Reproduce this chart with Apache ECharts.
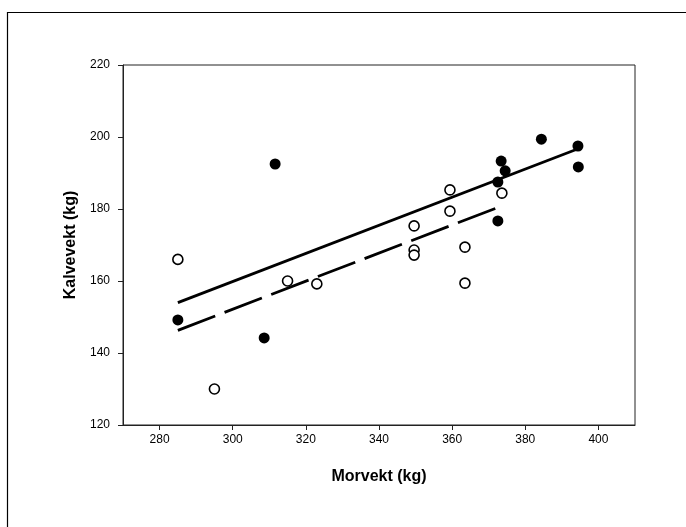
<!DOCTYPE html>
<html>
<head>
<meta charset="utf-8">
<script src="https://cdn.jsdelivr.net/npm/echarts@6/dist/echarts.min.js"></script>
<style>html,body{margin:0;padding:0;background:#fff;}#c{width:686px;height:527px;}</style>
</head>
<body>
<div id="c"></div>
<script>
// Open circles (x: Morvekt, y: Kalvevekt)
const openPoints = [
  [285, 166], [295, 130], [315, 160], [323, 159.2], [349.6, 175.3],
  [349.6, 168.6], [349.6, 167.2], [359.4, 185.3], [359.4, 179.4],
  [363.5, 169.4], [363.5, 159.4], [373.6, 184.4]
];
// Filled circles
const filledPoints = [
  [285, 149.2], [311.6, 192.5], [308.6, 144.2], [372.5, 176.7],
  [372.5, 187.5], [373.4, 193.3], [374.5, 190.6], [384.4, 199.4],
  [394.4, 197.5], [394.5, 191.7]
];
// Regression lines (endpoints)
const solidLine = [[285, 154], [394.1, 196.6]];
const dashedLine = [[285, 146.3], [373.7, 180.9]];
// Axis settings
const xRange = [270, 410];
const xTicks = [280, 300, 320, 340, 360, 380, 400];
const yRange = [120, 220], yStep = 20;
const xName = 'Morvekt (kg)';
const yName = 'Kalvevekt (kg)';

const chart = echarts.init(document.getElementById('c'), null, {renderer: 'canvas'});
const font = 'Liberation Sans, Arial, Helvetica, sans-serif';
chart.setOption({
  animation: false,
  backgroundColor: '#fff',
  graphic: [{
    type: 'rect', z: -1, silent: true,
    shape: {x: 7.5, y: 12.5, width: 720, height: 560},
    style: {fill: 'none', stroke: '#000', lineWidth: 1.2}
  }],
  grid: {left: 123, top: 65, right: 51, bottom: 102, show: true, borderColor: '#222', borderWidth: 1, backgroundColor: 'transparent'},
  xAxis: {
    type: 'value', min: xRange[0], max: xRange[1],
    name: xName, nameLocation: 'middle', nameGap: 44,
    nameTextStyle: {fontFamily: font, fontSize: 16, fontWeight: 'bold', color: '#000'},
    axisLine: {show: true, lineStyle: {color: '#222', width: 1}},
    axisTick: {show: true, inside: false, length: 5, customValues: xTicks, lineStyle: {color: '#222'}},
    axisLabel: {fontFamily: font, fontSize: 12, color: '#000', margin: 9, customValues: xTicks},
    splitLine: {show: false}
  },
  yAxis: {
    type: 'value', min: yRange[0], max: yRange[1], interval: yStep,
    name: yName, nameLocation: 'middle', nameGap: 41, nameRotate: 90,
    nameTextStyle: {fontFamily: font, fontSize: 16, fontWeight: 'bold', color: '#000'},
    axisLine: {show: true, lineStyle: {color: '#222', width: 1}},
    axisTick: {show: true, inside: false, length: 5, lineStyle: {color: '#222'}},
    axisLabel: {fontFamily: font, fontSize: 12, color: '#000', margin: 13},
    splitLine: {show: false}
  },
  series: [
    {type: 'line', data: solidLine, symbol: 'none', lineStyle: {color: '#000', width: 2.8}, z: 2},
    {type: 'line', data: dashedLine, symbol: 'none', lineStyle: {color: '#000', width: 2.8, type: [40, 10]}, z: 2},
    {type: 'scatter', data: openPoints, symbol: 'circle', symbolSize: 10,
      itemStyle: {color: '#fff', borderColor: '#000', borderWidth: 1.6, opacity: 1}, z: 3},
    {type: 'scatter', data: filledPoints, symbol: 'circle', symbolSize: 11,
      itemStyle: {color: '#000', borderColor: '#000', borderWidth: 0, opacity: 1}, z: 4}
  ]
});
</script>
</body>
</html>
